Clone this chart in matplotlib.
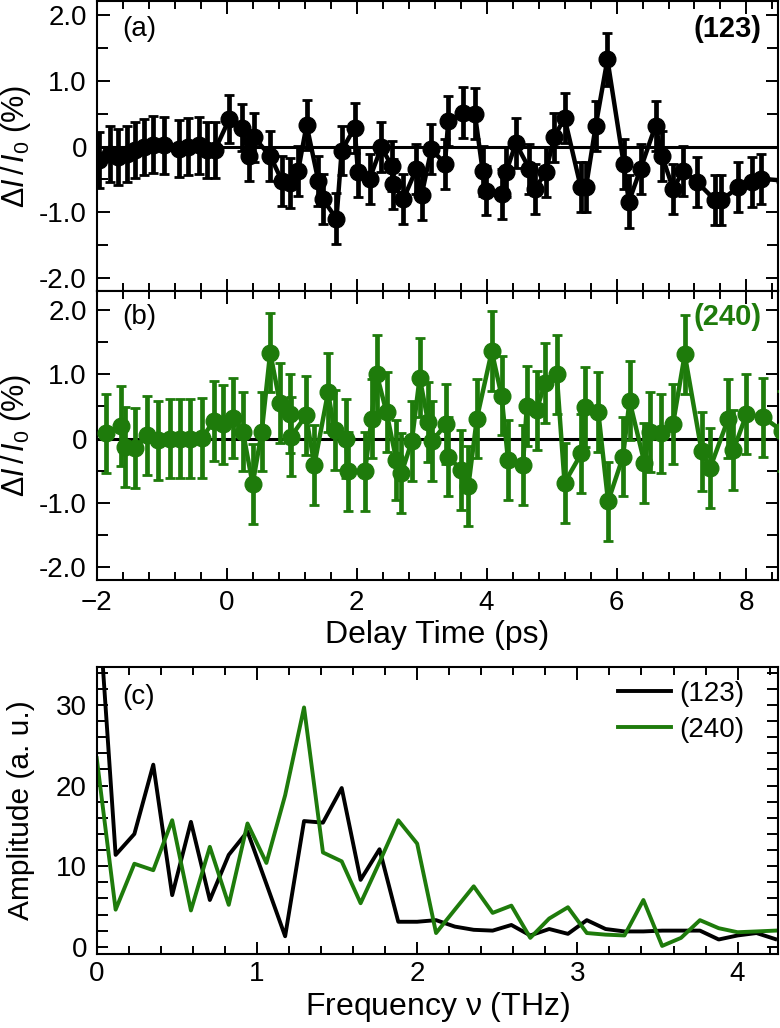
import matplotlib
matplotlib.use('Agg')
import matplotlib.pyplot as plt
from matplotlib.ticker import MultipleLocator, FixedLocator, FixedFormatter

plt.rcParams['font.family'] = ['Liberation Sans', 'DejaVu Sans']
plt.rcParams['mathtext.fontset'] = 'custom'
plt.rcParams['mathtext.rm'] = 'Liberation Sans'
plt.rcParams['mathtext.it'] = 'Liberation Sans:italic'

GREEN = '#1e7b0b'

# ---------------- data: panel (a), (123) ----------------
t_123 = [-1.96, -1.80, -1.67, -1.54, -1.41, -1.28, -1.13, -0.97, -0.74, -0.59,
         -0.43, -0.31, -0.18, 0.04, 0.23, 0.35, 0.42, 0.67, 0.85, 0.97,
         1.10, 1.23, 1.41, 1.48, 1.69, 1.77, 1.97, 2.02, 2.20, 2.38,
         2.54, 2.56, 2.72, 2.92, 3.00, 3.15, 3.36, 3.41, 3.64, 3.82,
         3.94, 3.99, 4.23, 4.30, 4.45, 4.66, 4.75, 4.91, 5.04, 5.20,
         5.45, 5.53, 5.68, 5.86, 6.11, 6.19, 6.37, 6.60, 6.70, 6.87,
         7.03, 7.24, 7.51, 7.61, 7.87, 8.08, 8.23, 8.60]
dI_123 = [-0.20, -0.11, -0.16, -0.11, -0.05, -0.01, 0.03, 0.02, -0.03, 0.00,
          0.02, -0.05, -0.05, 0.42, 0.29, -0.14, 0.14, -0.14, -0.52, -0.55,
          -0.37, 0.33, -0.52, -0.80, -1.10, -0.06, 0.29, -0.39, -0.49, -0.01,
          -0.29, -0.57, -0.80, -0.34, -0.74, -0.04, -0.26, 0.39, 0.52, 0.50,
          -0.37, -0.67, -0.72, -0.39, 0.05, -0.34, -0.64, -0.39, 0.14, 0.44,
          -0.62, -0.62, 0.32, 1.33, -0.26, -0.84, -0.34, 0.32, -0.14, -0.64,
          -0.37, -0.54, -0.81, -0.82, -0.62, -0.54, -0.49, -0.52]
err_123 = [0.43, 0.43, 0.43, 0.43, 0.43, 0.43, 0.43, 0.43, 0.43, 0.43,
           0.43, 0.43, 0.43, 0.36, 0.36, 0.38, 0.38, 0.38, 0.38, 0.38,
           0.38, 0.38, 0.38, 0.38, 0.39, 0.38, 0.38, 0.38, 0.38, 0.38,
           0.38, 0.38, 0.38, 0.38, 0.38, 0.38, 0.38, 0.38, 0.39, 0.39,
           0.38, 0.38, 0.38, 0.38, 0.38, 0.38, 0.38, 0.38, 0.38, 0.38,
           0.38, 0.38, 0.38, 0.40, 0.38, 0.40, 0.38, 0.38, 0.38, 0.38,
           0.38, 0.38, 0.38, 0.38, 0.38, 0.38, 0.38, 0.38]

# ---------------- data: panel (b), (240) ----------------
t_240 = [-1.85, -1.62, -1.56, -1.41, -1.23, -1.05, -0.87, -0.72, -0.57, -0.38,
         -0.20, -0.05, 0.10, 0.25, 0.40, 0.54, 0.67, 0.82, 0.97, 0.99,
         1.22, 1.35, 1.56, 1.66, 1.84, 1.87, 2.13, 2.23, 2.31, 2.46,
         2.61, 2.69, 2.85, 2.97, 3.10, 3.16, 3.38, 3.41, 3.61, 3.72,
         3.85, 4.08, 4.23, 4.33, 4.56, 4.62, 4.77, 4.90, 5.08, 5.20,
         5.46, 5.51, 5.72, 5.87, 6.10, 6.20, 6.43, 6.51, 6.69, 6.87,
         7.05, 7.31, 7.44, 7.72, 7.80, 8.00, 8.26, 8.55]
dI_240 = [0.08, 0.20, -0.13, -0.15, 0.05, -0.03, 0.00, 0.00, 0.00, 0.01,
          0.27, 0.22, 0.32, 0.11, -0.71, 0.11, 1.34, 0.55, 0.39, 0.03,
          0.36, -0.41, 0.72, 0.13, 0.00, -0.51, -0.51, 0.31, 1.00, 0.41,
          -0.33, -0.54, -0.04, 0.95, 0.26, -0.04, 0.23, -0.28, -0.49, -0.74,
          0.31, 1.36, 0.67, -0.33, -0.41, 0.51, 0.44, 0.87, 1.00, -0.69,
          -0.23, 0.49, 0.41, -0.98, -0.28, 0.59, -0.38, 0.10, 0.08, 0.23,
          1.31, -0.20, -0.46, 0.31, -0.18, 0.38, 0.33, 0.12]
err_240 = [0.62] * len(t_240)

# ---------------- data: panel (c), FFT amplitudes ----------------
freq = [0.000, 0.118, 0.235, 0.353, 0.471, 0.588, 0.706, 0.824, 0.941, 1.059,
        1.176, 1.294, 1.412, 1.529, 1.647, 1.765, 1.882, 2.000, 2.118, 2.235,
        2.353, 2.471, 2.588, 2.706, 2.824, 2.941, 3.059, 3.176, 3.294, 3.412,
        3.529, 3.647, 3.765, 3.882, 4.000, 4.118, 4.235]
amp_123 = [46.0, 11.4, 14.0, 22.6, 6.4, 15.5, 5.8, 11.4, 14.3, 7.8,
           1.3, 15.6, 15.4, 19.7, 8.3, 12.1, 3.1, 3.1, 3.3, 2.5,
           2.1, 2.0, 2.7, 1.4, 2.2, 1.6, 3.3, 2.2, 1.9, 1.9,
           2.0, 2.0, 2.0, 0.9, 1.4, 1.7, 0.95]
amp_240 = [23.4, 4.6, 10.3, 9.5, 15.7, 4.5, 12.4, 5.2, 15.3, 10.4,
           18.8, 29.7, 11.7, 10.6, 5.4, 10.5, 15.7, 12.8, 1.7, 4.6,
           7.5, 4.2, 5.1, 1.1, 3.5, 4.9, 1.7, 1.5, 1.4, 5.8,
           0.1, 1.1, 3.3, 2.3, 1.8, 1.9, 2.0]

ylabels_ab = ['-2.0', '-1.0', '0', '1.0', '2.0']
yticks_ab = [-2, -1, 0, 1, 2]

fig = plt.figure(figsize=(7.8, 10.28), dpi=100)
L, W = 0.124, 0.873
axA = fig.add_axes([L, 0.717, W, 0.282])
axB = fig.add_axes([L, 0.436, W, 0.281])
axC = fig.add_axes([L, 0.072, W, 0.279])

TICK_FS = 20
LAB_FS = 23


def style(ax):
    for s in ax.spines.values():
        s.set_linewidth(1.5)
    ax.tick_params(which='both', direction='in', top=True, right=True,
                   width=1.4, labelsize=TICK_FS)
    ax.tick_params(which='major', length=9)
    ax.tick_params(which='minor', length=5.5)
    ax.tick_params(axis='y', which='both', pad=7)
    ax.tick_params(axis='x', which='both', pad=7)


for ax, t, y, e, col, ylim in [(axA, t_123, dI_123, err_123, 'k', (-2.2, 2.22)),
                                (axB, t_240, dI_240, err_240, GREEN, (-2.2, 2.3))]:
    ax.axhline(0, color='k', lw=2.2, zorder=1)
    ax.errorbar(t, y, yerr=e, fmt='-o', color=col, ms=12, lw=3.2,
                elinewidth=3.4, capsize=3.4, capthick=2, zorder=3)
    ax.set_xlim(-2.0, 8.48)
    ax.set_ylim(*ylim)
    ax.xaxis.set_major_locator(MultipleLocator(2))
    ax.xaxis.set_minor_locator(MultipleLocator(0.4))
    ax.yaxis.set_major_locator(FixedLocator(yticks_ab))
    ax.yaxis.set_major_formatter(FixedFormatter(ylabels_ab))
    ax.yaxis.set_minor_locator(MultipleLocator(0.5))
    style(ax)
    ax.tick_params(axis='y', which='minor', length=8)
    ax.set_ylabel(r'$\Delta I\,/\,I_0$ (%)', fontsize=22)
    ax.yaxis.set_label_coords(-0.094, 0.5)

axA.tick_params(axis='x', labelbottom=False)
axB.set_xlabel('Delay Time (ps)', fontsize=LAB_FS, labelpad=3)

axA.text(0.037, 0.905, '(a)', transform=axA.transAxes, fontsize=20,
         ha='left', va='center')
axA.text(0.977, 0.905, '(123)', transform=axA.transAxes, fontsize=21,
         ha='right', va='center', fontweight='bold')
axB.text(0.037, 0.91, '(b)', transform=axB.transAxes, fontsize=20,
         ha='left', va='center')
axB.text(0.977, 0.91, '(240)', transform=axB.transAxes, fontsize=21,
         ha='right', va='center', fontweight='bold', color=GREEN)

# ---------------- panel (c) ----------------
axC.plot(freq, amp_123, color='k', lw=2.8, label='(123)')
axC.plot(freq, amp_240, color=GREEN, lw=2.8, label='(240)')
axC.set_xlim(0, 4.25)
axC.set_ylim(-0.9, 34.7)
axC.xaxis.set_major_locator(MultipleLocator(1))
axC.xaxis.set_minor_locator(MultipleLocator(0.2))
axC.yaxis.set_major_locator(MultipleLocator(10))
axC.yaxis.set_minor_locator(MultipleLocator(2))
style(axC)
axC.tick_params(axis='x', which='both', pad=5)
axC.tick_params(axis='y', which='both', length=8)
axC.set_xlabel(r'Frequency $\mathrm{\nu}$ (THz)', fontsize=LAB_FS, labelpad=2)
axC.set_ylabel('Amplitude (a. u.)', fontsize=21.5)
axC.yaxis.set_label_coords(-0.091, 0.5)
axC.text(0.037, 0.895, '(c)', transform=axC.transAxes, fontsize=20,
         ha='left', va='center')
axC.legend(loc='upper right', bbox_to_anchor=(0.972, 1.0), frameon=False,
           fontsize=20, handlelength=1.9, handletextpad=0.3,
           labelspacing=0.35, borderaxespad=0.1)

fig.savefig('out.png', dpi=100)
